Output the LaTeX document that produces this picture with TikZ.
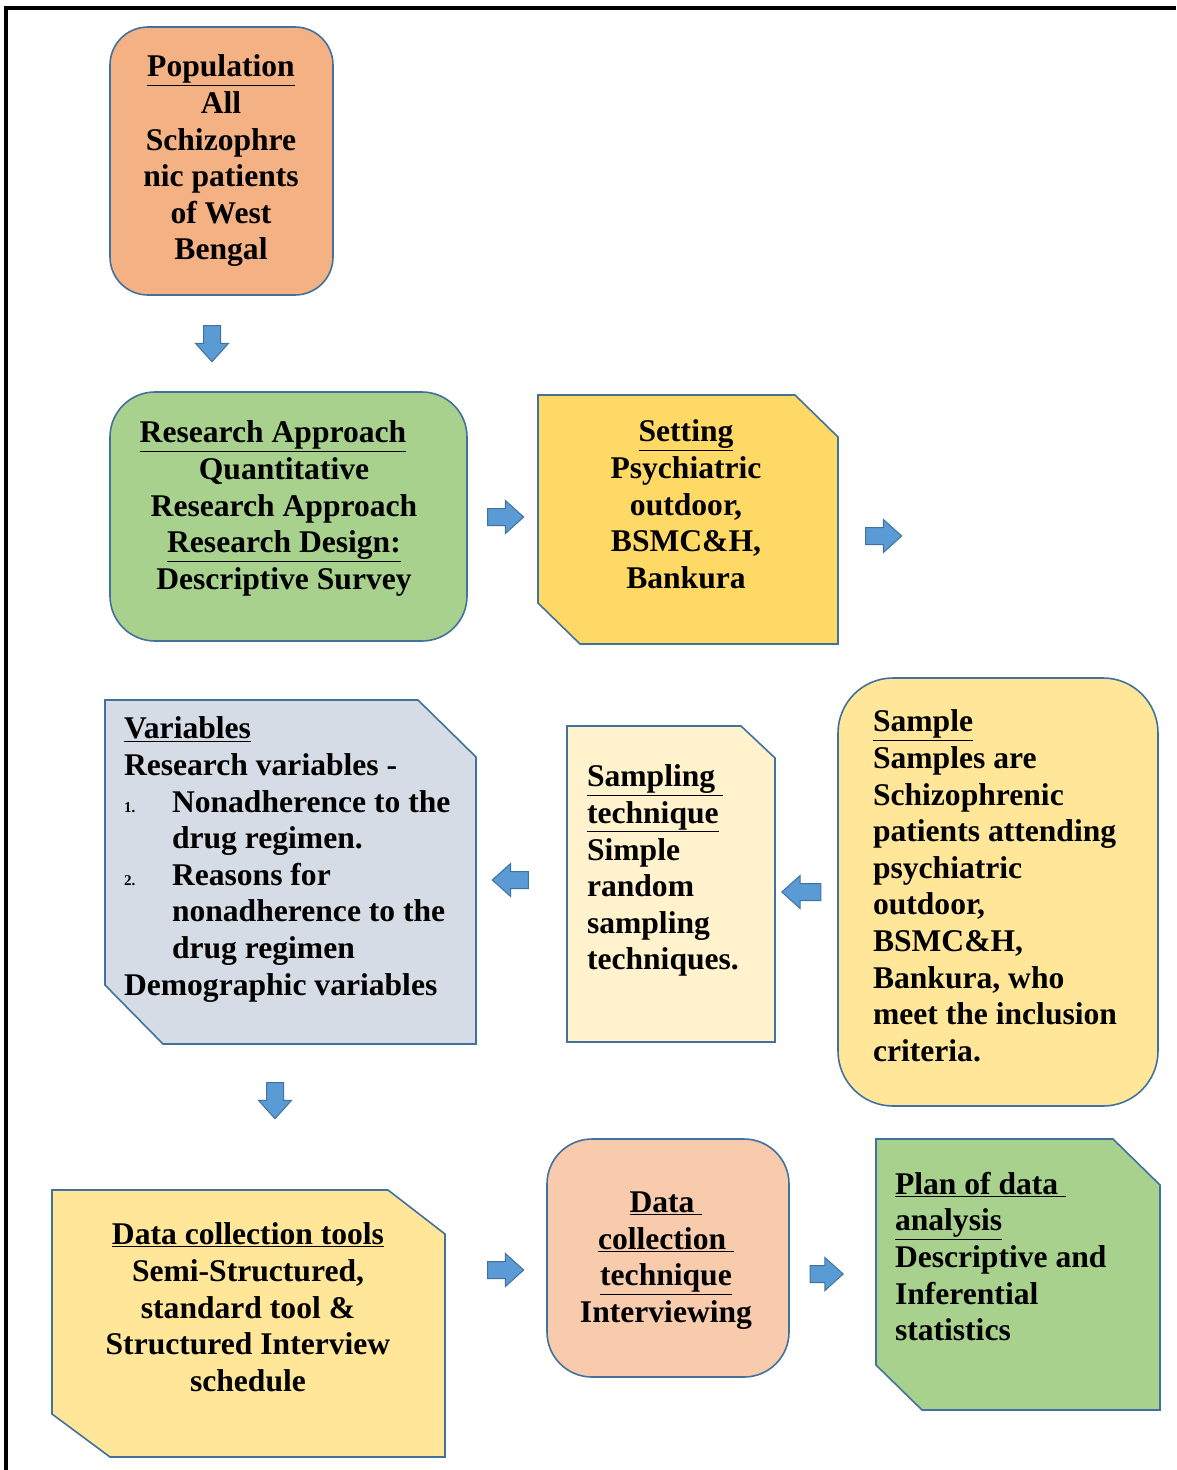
\documentclass[tikz,border=0pt]{standalone}
\usepackage{fontspec}
\setmainfont{Liberation Serif}
\usetikzlibrary{shapes.arrows}
\definecolor{bordc}{HTML}{41719C}
\definecolor{arrowfill}{HTML}{5B9BD5}
\definecolor{arrowline}{HTML}{41719C}
\definecolor{corange}{HTML}{F4B183}
\definecolor{cgreen}{HTML}{A9D18E}
\definecolor{cgold}{HTML}{FFD966}
\definecolor{clgold}{HTML}{FFE699}
\definecolor{cpale}{HTML}{FFF2CC}
\definecolor{cgray}{HTML}{D6DCE5}
\definecolor{cpeach}{HTML}{F8CBAD}
\newcommand\numlbl[1]{\makebox[48pt][l]{\fontsize{15}{15}\selectfont #1}}
\begin{document}
\begin{tikzpicture}[x=1pt,y=-1pt,
  geom/.style={rectangle, inner sep=0pt, outer sep=0pt},
  boxline/.style={draw=bordc, line width=1.6pt},
  rbox/.style={geom, boxline},
  txt/.style={inner sep=0pt, outer sep=0pt, font=\fontsize{31.6}{36.6}\selectfont\bfseries},
  blockarrow/.style={single arrow, draw=arrowline, fill=arrowfill, line width=1pt,
    minimum height=36pt, minimum width=32pt, single arrow head extend=8pt,
    inner sep=8pt, single arrow tip angle=84}
]
\useasboundingbox (0,0) rectangle (1176,1470);
% frame
\coordinate (fbl) at (6,1470);
\coordinate (ftl) at (6,8);
\coordinate (ftr) at (1176,8);
\draw[line width=3.2pt] (fbl) -- (ftl) -- (ftr);

% Population
\node[rbox, fill=corange, rounded corners=38pt, minimum width=223pt, minimum height=268pt] (pop) at (221.5,161) {};
\node[txt, anchor=north, align=center] (popt) at (221,55)
  {\underline{Population}\\All\\Schizophre\\nic patients\\of West\\Bengal};

% Research approach
\node[rbox, fill=cgreen, rounded corners=45pt, minimum width=357pt, minimum height=249pt] (ra) at (288.5,516.5) {};
\node[txt, anchor=north, align=center] (rat) at (284,421)
  {\underline{Research Approach}\hspace*{22pt}\\Quantitative\\Research Approach\\\underline{Research Design:}\\Descriptive Survey};

% Setting
\node[geom, minimum width=300pt, minimum height=249pt] (set) at (688,519.5) {};
\filldraw[boxline, fill=cgold] (set.north west) -- ([xshift=-43pt]set.north east) -- ([yshift=-42pt]set.north east)
  -- (set.south east) -- ([xshift=42pt]set.south west) -- ([yshift=41pt]set.south west) -- cycle;
\node[txt, anchor=north, align=center] (sett) at (686,420)
  {\underline{Setting}\\Psychiatric\\outdoor,\\BSMC\&H,\\Bankura};

% Sample
\node[rbox, fill=clgold, rounded corners=55pt, minimum width=320pt, minimum height=428pt] (sam) at (998,892) {};
\node[txt, anchor=north west, align=left] (samt) at (873,710)
  {\underline{Sample}\\Samples are\\Schizophrenic\\patients attending\\psychiatric\\outdoor,\\BSMC\&H,\\Bankura, who\\meet the inclusion\\criteria.};

% Sampling technique
\node[geom, minimum width=208pt, minimum height=316pt] (stq) at (671,884) {};
\filldraw[boxline, fill=cpale] (stq.north west) -- ([xshift=-34pt]stq.north east) -- ([yshift=-32pt]stq.north east)
  -- (stq.south east) -- (stq.south west) -- cycle;
\node[txt, anchor=north west, align=left] (stqt) at (587,765)
  {\underline{Sampling~}\\\underline{technique}\\Simple\\random\\sampling\\techniques.};

% Variables
\node[geom, minimum width=371pt, minimum height=344pt] (var) at (290.5,872) {};
\filldraw[boxline, fill=cgray] (var.north west) -- ([xshift=-58pt]var.north east) -- ([yshift=-57pt]var.north east)
  -- (var.south east) -- ([xshift=58pt]var.south west) -- ([yshift=59pt]var.south west) -- cycle;
\node[txt, anchor=north west, align=left] (vart) at (124,717)
  {\underline{Variables}\\Research variables -\\
   \numlbl{1.}Nonadherence to the\\\hspace*{48pt}drug regimen.\\
   \numlbl{2.}Reasons for\\\hspace*{48pt}nonadherence to the\\\hspace*{48pt}drug regimen\\
   Demographic variables};

% Data collection tools
\node[geom, minimum width=393pt, minimum height=267pt] (dct) at (248.5,1323.5) {};
\filldraw[boxline, fill=clgold] (dct.north west) -- ([xshift=-57pt]dct.north east) -- ([yshift=-44pt]dct.north east)
  -- (dct.south east) -- ([xshift=58pt]dct.south west) -- ([yshift=43pt]dct.south west) -- cycle;
\node[txt, anchor=north, align=center] (dctt) at (248,1223)
  {\underline{Data collection tools}\\Semi-Structured,\\standard tool \&\\Structured Interview\\schedule};

% Data collection technique
\node[rbox, fill=cpeach, rounded corners=45pt, minimum width=242pt, minimum height=238pt] (dtq) at (668,1258) {};
\node[txt, anchor=north, align=center] (dtqt) at (666,1192)
  {\underline{Data~}\\\underline{collection~}\\\underline{technique}\\Interviewing};

% Plan of data analysis
\node[geom, minimum width=284pt, minimum height=271pt] (plan) at (1018,1274.5) {};
\filldraw[boxline, fill=cgreen] (plan.north west) -- ([xshift=-47pt]plan.north east) -- ([yshift=-46pt]plan.north east)
  -- (plan.south east) -- ([xshift=46pt]plan.south west) -- ([yshift=45pt]plan.south west) -- cycle;
\node[txt, anchor=north west, align=left] (plant) at (895,1172)
  {\underline{Plan of data~}\\\underline{analysis}\\Descriptive and\\Inferential\\statistics};

% block arrows
\node[blockarrow, shape border rotate=270] (a1) at (212,339) {};
\node[blockarrow] (a2) at (501,517) {};
\node[blockarrow] (a3) at (879,536) {};
\node[blockarrow, shape border rotate=180, minimum height=39pt] (a4) at (806,892) {};
\node[blockarrow, shape border rotate=180] (a5) at (515,880) {};
\node[blockarrow, shape border rotate=270] (a6) at (275,1096) {};
\node[blockarrow] (a7) at (501,1270) {};
\node[blockarrow, minimum height=33pt] (a8) at (822,1274) {};
\end{tikzpicture}
\end{document}
